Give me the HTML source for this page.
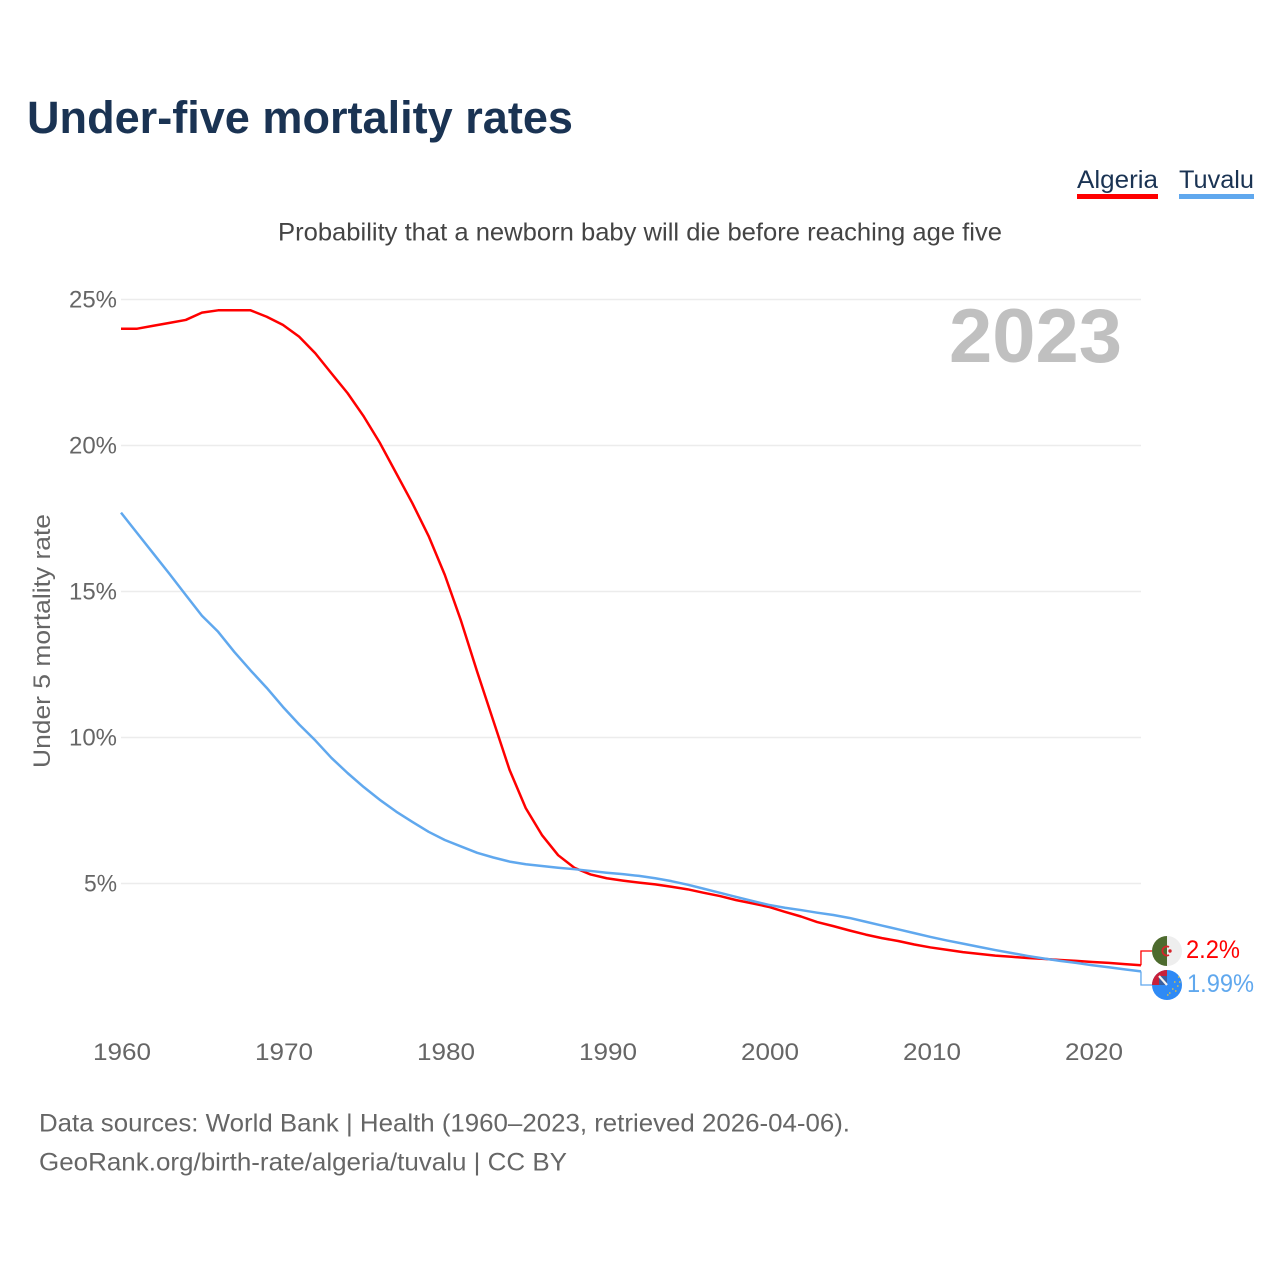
<!DOCTYPE html>
<html lang="en">
<head>
<meta charset="utf-8">
<title>Under-five mortality rates</title>
<style>
html,body{margin:0;padding:0;background:#fff;width:1280px;height:1280px;overflow:hidden}
svg{display:block}
text{font-family:"Liberation Sans",sans-serif}
</style>
</head>
<body>
<svg id="chart" width="1280" height="1280" viewBox="0 0 1280 1280" xmlns="http://www.w3.org/2000/svg">
  <defs>
    <clipPath id="clip-a"><circle cx="1167" cy="951" r="15"/></clipPath>
    <clipPath id="clip-t"><circle cx="1167" cy="985" r="15"/></clipPath>
  </defs>
  <text x="27" y="133" font-size="45" font-weight="700" fill="#1a3353" textLength="546" lengthAdjust="spacingAndGlyphs">Under-five mortality rates</text>

  <g>
    <g>
      <text x="1077" y="188" font-size="25" fill="#1a3353" textLength="81" lengthAdjust="spacingAndGlyphs">Algeria</text>
      <rect x="1077" y="194" width="81" height="5" fill="#ff0000"/>
    </g>
    <g>
      <text x="1179" y="188" font-size="25" fill="#1a3353" textLength="75" lengthAdjust="spacingAndGlyphs">Tuvalu</text>
      <rect x="1179" y="194" width="75" height="5" fill="#60a8ee"/>
    </g>
  </g>

  <text x="278" y="240.5" font-size="25" fill="#444" textLength="724" lengthAdjust="spacingAndGlyphs">Probability that a newborn baby will die before reaching age five</text>
  <text transform="translate(50,768) rotate(-90)" font-size="24.5" fill="#666" textLength="254" lengthAdjust="spacingAndGlyphs">Under 5 mortality rate</text>
  <text x="949" y="362" font-size="76" font-weight="700" fill="#c0c0c0" textLength="173" lengthAdjust="spacingAndGlyphs">2023</text>

  <g id="grid"></g>
  <g id="yticks"></g>
  <g id="xticks"></g>
  <g id="series"></g>

  <g clip-path="url(#clip-a)">
    <rect x="1152" y="936" width="15" height="30" fill="#4d6b2e"/>
    <rect x="1167" y="936" width="15" height="30" fill="#eeeeee"/>
    <path d="M1169 947A4.5 4.5 0 1 0 1169 955" fill="none" stroke="#d8222a" stroke-width="1.8"/>
    <circle cx="1170" cy="951" r="1.7" fill="#d8222a"/>
  </g>
  <g clip-path="url(#clip-t)">
    <rect x="1152" y="970" width="30" height="30" fill="#2f8af5"/>
    <rect x="1152" y="970" width="15" height="15" fill="#c8203a"/>
    <rect x="1159" y="976" width="8" height="9" fill="#3a5f9e"/>
    <path d="M1159 976L1167 985" stroke="#f3f3f3" stroke-width="2.2"/>
    <path d="M1174 982h1.5M1178 977h1.5M1177 986h1.5M1172 989h1.5M1169 993h1.5M1175 991h1.5M1179 982h1.5M1167 995h1.5" stroke="#d9bf4a" stroke-width="1.6"/>
  </g>

  <text x="1186" y="958" font-size="25" fill="#ff0000" textLength="54" lengthAdjust="spacingAndGlyphs">2.2%</text>
  <text x="1187" y="992" font-size="25" fill="#60a8ee" textLength="67" lengthAdjust="spacingAndGlyphs">1.99%</text>

  <text x="39" y="1131.5" font-size="25" fill="#666" textLength="811" lengthAdjust="spacingAndGlyphs">Data sources: World Bank | Health (1960–2023, retrieved 2026-04-06).</text>
  <text x="39" y="1170.5" font-size="25" fill="#666" textLength="528" lengthAdjust="spacingAndGlyphs">GeoRank.org/birth-rate/algeria/tuvalu | CC BY</text>
</svg>
<script>
const years = [];
for (let yr = 1960; yr <= 2023; yr++) years.push(yr);
const yTickValues = [5, 10, 15, 20, 25];
const yTickLabels = ['5%', '10%', '15%', '20%', '25%'];
const xTickValues = [1960, 1970, 1980, 1990, 2000, 2010, 2020];
const xTickLabels = ['1960', '1970', '1980', '1990', '2000', '2010', '2020'];
const algeriaValues = [
  24.0, 24.0, 24.1, 24.2, 24.3, 24.55, 24.63, 24.63, 24.63, 24.41,
  24.13, 23.73, 23.16, 22.47, 21.79, 20.99, 20.08, 19.05, 18.02, 16.9,
  15.57, 14.0, 12.25, 10.57, 8.89, 7.58, 6.66, 5.97, 5.54, 5.31,
  5.18, 5.1, 5.03, 4.97, 4.89, 4.8, 4.68, 4.57, 4.43, 4.32,
  4.2, 4.03, 3.87, 3.68, 3.54, 3.39, 3.25, 3.13, 3.03, 2.91,
  2.81, 2.73, 2.65, 2.59, 2.53, 2.49, 2.45, 2.42, 2.38, 2.35,
  2.31, 2.28, 2.24, 2.2
];
const tuvaluValues = [
  17.7, 17.0, 16.3, 15.6, 14.88, 14.17, 13.62, 12.93, 12.3, 11.7,
  11.05, 10.45, 9.9, 9.3, 8.78, 8.3, 7.86, 7.46, 7.11, 6.77,
  6.49, 6.27, 6.05, 5.89, 5.75, 5.66, 5.6, 5.54, 5.49, 5.43,
  5.37, 5.32, 5.26, 5.18, 5.08, 4.96, 4.82, 4.68, 4.54, 4.4,
  4.27, 4.17, 4.09, 4.0, 3.92, 3.82, 3.69, 3.56, 3.43, 3.3,
  3.17, 3.05, 2.94, 2.83, 2.72, 2.62, 2.52, 2.43, 2.35, 2.28,
  2.2, 2.13, 2.06, 1.99
];

const SVG_NS = 'http://www.w3.org/2000/svg';
const xScale = function (year) { return 121 + (year - 1960) * 16.19; };
const yScale = function (value) { return 883.5 - (value - 5) * 29.2; };
const plotRight = xScale(2023);

const gridGroup = document.getElementById('grid');
const yTickGroup = document.getElementById('yticks');
const xTickGroup = document.getElementById('xticks');
const seriesGroup = document.getElementById('series');

yTickValues.forEach(function (value, i) {
  const rule = document.createElementNS(SVG_NS, 'line');
  
  
  rule.setAttribute('x1', xScale(1960));
  rule.setAttribute('x2', plotRight);
  rule.setAttribute('y1', yScale(value));
  rule.setAttribute('y2', yScale(value));
  rule.setAttribute('stroke', '#ececec');
  rule.setAttribute('stroke-width', '1.5');
  gridGroup.appendChild(rule);

  const label = document.createElementNS(SVG_NS, 'text');
  
  
  label.setAttribute('x', 117);
  label.setAttribute('y', yScale(value) + 8);
  label.setAttribute('text-anchor', 'end');
  label.setAttribute('font-size', '24.5');
  label.setAttribute('fill', '#666');
  label.setAttribute('textLength', yTickLabels[i].length === 2 ? 33 : 48);
  label.setAttribute('lengthAdjust', 'spacingAndGlyphs');
  label.textContent = yTickLabels[i];
  yTickGroup.appendChild(label);
});

xTickValues.forEach(function (year, i) {
  const label = document.createElementNS(SVG_NS, 'text');
  
  
  label.setAttribute('x', xScale(year) + 1 + (year - 1960) * 0.01);
  label.setAttribute('y', 1060);
  label.setAttribute('text-anchor', 'middle');
  label.setAttribute('font-size', '24.5');
  label.setAttribute('fill', '#666');
  label.setAttribute('textLength', 58);
  label.setAttribute('lengthAdjust', 'spacingAndGlyphs');
  label.textContent = xTickLabels[i];
  xTickGroup.appendChild(label);
});

function linePoints(values) {
  return values.map(function (value, i) {
    return xScale(years[i]).toFixed(2) + ',' + yScale(value).toFixed(2);
  }).join(' ');
}

const tuvaluLabelY = 985;
const algeriaLabelY = 951;

const tuvaluLeader = document.createElementNS(SVG_NS, 'polyline');


tuvaluLeader.setAttribute('points', plotRight + ',' + yScale(tuvaluValues[63]) + ' ' + plotRight + ',' + tuvaluLabelY + ' 1152,' + tuvaluLabelY);
tuvaluLeader.setAttribute('fill', 'none');
tuvaluLeader.setAttribute('stroke', '#60a8ee');
tuvaluLeader.setAttribute('stroke-width', '1.3');
seriesGroup.appendChild(tuvaluLeader);

const algeriaLeader = document.createElementNS(SVG_NS, 'polyline');


algeriaLeader.setAttribute('points', plotRight + ',' + yScale(algeriaValues[63]) + ' ' + plotRight + ',' + algeriaLabelY + ' 1152,' + algeriaLabelY);
algeriaLeader.setAttribute('fill', 'none');
algeriaLeader.setAttribute('stroke', '#ff0000');
algeriaLeader.setAttribute('stroke-width', '1.3');
seriesGroup.appendChild(algeriaLeader);

const algeriaLine = document.createElementNS(SVG_NS, 'polyline');


algeriaLine.setAttribute('points', linePoints(algeriaValues));
algeriaLine.setAttribute('fill', 'none');
algeriaLine.setAttribute('stroke', '#ff0000');
algeriaLine.setAttribute('stroke-width', '2.5');
algeriaLine.setAttribute('stroke-linejoin', 'round');
seriesGroup.appendChild(algeriaLine);

const tuvaluLine = document.createElementNS(SVG_NS, 'polyline');


tuvaluLine.setAttribute('points', linePoints(tuvaluValues));
tuvaluLine.setAttribute('fill', 'none');
tuvaluLine.setAttribute('stroke', '#60a8ee');
tuvaluLine.setAttribute('stroke-width', '2.5');
tuvaluLine.setAttribute('stroke-linejoin', 'round');
seriesGroup.appendChild(tuvaluLine);
</script>
</body>
</html>
